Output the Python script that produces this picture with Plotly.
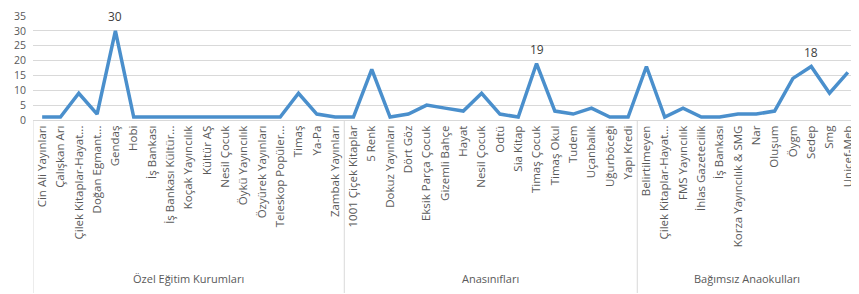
import plotly.graph_objects as go

groups = ["Özel Eğitim Kurumları", "Anasınıfları", "Bağımsız Anaokulları"]

names_ozel = ["Cin Ali Yayınları", "Çalışkan Arı", "Çilek Kitaplar-Hayat...", "Doğan Egmant...",
              "Gendaş", "Hobi", "İş Bankası", "İş Bankası Kültür...", "Koçak Yayıncılık",
              "Kültür AŞ", "Nesil Çocuk", "Öykü Yayıncılık", "Özyürek Yayınları",
              "Teleskop Popüler...", "Timaş", "Ya-Pa", "Zambak Yayınları"]
values_ozel = [1, 1, 9, 2, 30, 1, 1, 1, 1, 1, 1, 1, 1, 1, 9, 2, 1]

names_ana = ["1001 Çiçek Kitaplar", "5 Renk", "Dokuz Yayınları", "Dört Göz", "Eksik Parça Çocuk",
             "Gizemli Bahçe", "Hayat", "Nesil Çocuk", "Odtü", "Sia Kitap", "Timaş Çocuk",
             "Timaş Okul", "Tudem", "Uçanbalık", "Uğurböceği", "Yapı Kredi"]
values_ana = [1, 17, 1, 2, 5, 4, 3, 9, 2, 1, 19, 3, 2, 4, 1, 1]

names_bag = ["Belirtilmeyen", "Çilek Kitaplar-Hayat...", "FMS Yayıncılık", "İhlas Gazetecilik",
             "İş Bankası", "Korza Yayıncılık & SMG", "Nar", "Oluşum", "Öygm", "Sedep", "Smg",
             "Unicef-Meb"]
values_bag = [18, 1, 4, 1, 1, 2, 2, 3, 14, 18, 9, 16]

labelled = {("Özel Eğitim Kurumları", "Gendaş"), ("Anasınıfları", "Timaş Çocuk"),
            ("Bağımsız Anaokulları", "Sedep")}

y_ticks = [0, 5, 10, 15, 20, 25, 30, 35]

group_names = [names_ozel, names_ana, names_bag]
group_values = [values_ozel, values_ana, values_bag]

outer, inner, vals = [], [], []
for g, ns, vs in zip(groups, group_names, group_values):
    outer += [g] * len(ns)
    inner += ns
    vals += vs
pos = list(range(len(vals)))

GRAY = "#595959"
LINE_GRAY = "#d9d9d9"
FONT = "Open Sans"
fig = go.Figure(go.Scatter(
    x=pos, y=vals, mode="lines",
    line=dict(color="#4a8fcc", width=3.5), cliponaxis=False,
))

# data labels
for p, g, n, v in zip(pos, outer, inner, vals):
    if (g, n) in labelled:
        fig.add_annotation(x=p, y=v, xref="x", yref="y", text=str(v), showarrow=False,
                           yshift=14, borderpad=0,
                           font=dict(family=FONT, size=12, color="#404040"))

# page has an 8px body margin, so the figure is 8px smaller and margins shifted
W, H = 851, 286
ML, MT, MB, MR = 25, 8, 174, 2
plot_h = H - MT - MB  # 104

start = 0
bounds = [-0.5]
for g, ns in zip(groups, group_names):
    end = start + len(ns) - 1
    fig.add_annotation(x=(start + end) / 2, y=-(278 - 120) / plot_h, xref="x", yref="paper",
                       text=g, showarrow=False, yanchor="middle",
                       font=dict(family=FONT, size=11, color=GRAY))
    bounds.append(end + 0.5)
    start = end + 1
for b in bounds:
    fig.add_shape(type="line", xref="x", yref="paper", x0=b, x1=b, y0=0,
                  y1=-(293 - 120) / plot_h, line=dict(color=LINE_GRAY, width=1))

fig.update_layout(
    width=W, height=H, margin=dict(l=ML, r=MR, t=MT, b=MB, autoexpand=False),
    paper_bgcolor="white", plot_bgcolor="white", showlegend=False,
    font=dict(family=FONT, size=11, color=GRAY),
)
fig.update_xaxes(range=[-0.5, len(vals) - 0.5], tickvals=pos, ticktext=inner,
                 tickangle=-90, showgrid=False, zeroline=False, automargin=False,
                 showline=True, linecolor=LINE_GRAY, ticks="",
                 tickfont=dict(family=FONT, size=11.5, color=GRAY))
fig.update_yaxes(range=[0, 35], tickvals=y_ticks, showgrid=True, gridcolor=LINE_GRAY,
                 zeroline=False, showline=False, ticks="", automargin=False,
                 ticklabelstandoff=6,
                 tickfont=dict(family=FONT, size=10.5, color=GRAY))
fig.write_html("out.html")
